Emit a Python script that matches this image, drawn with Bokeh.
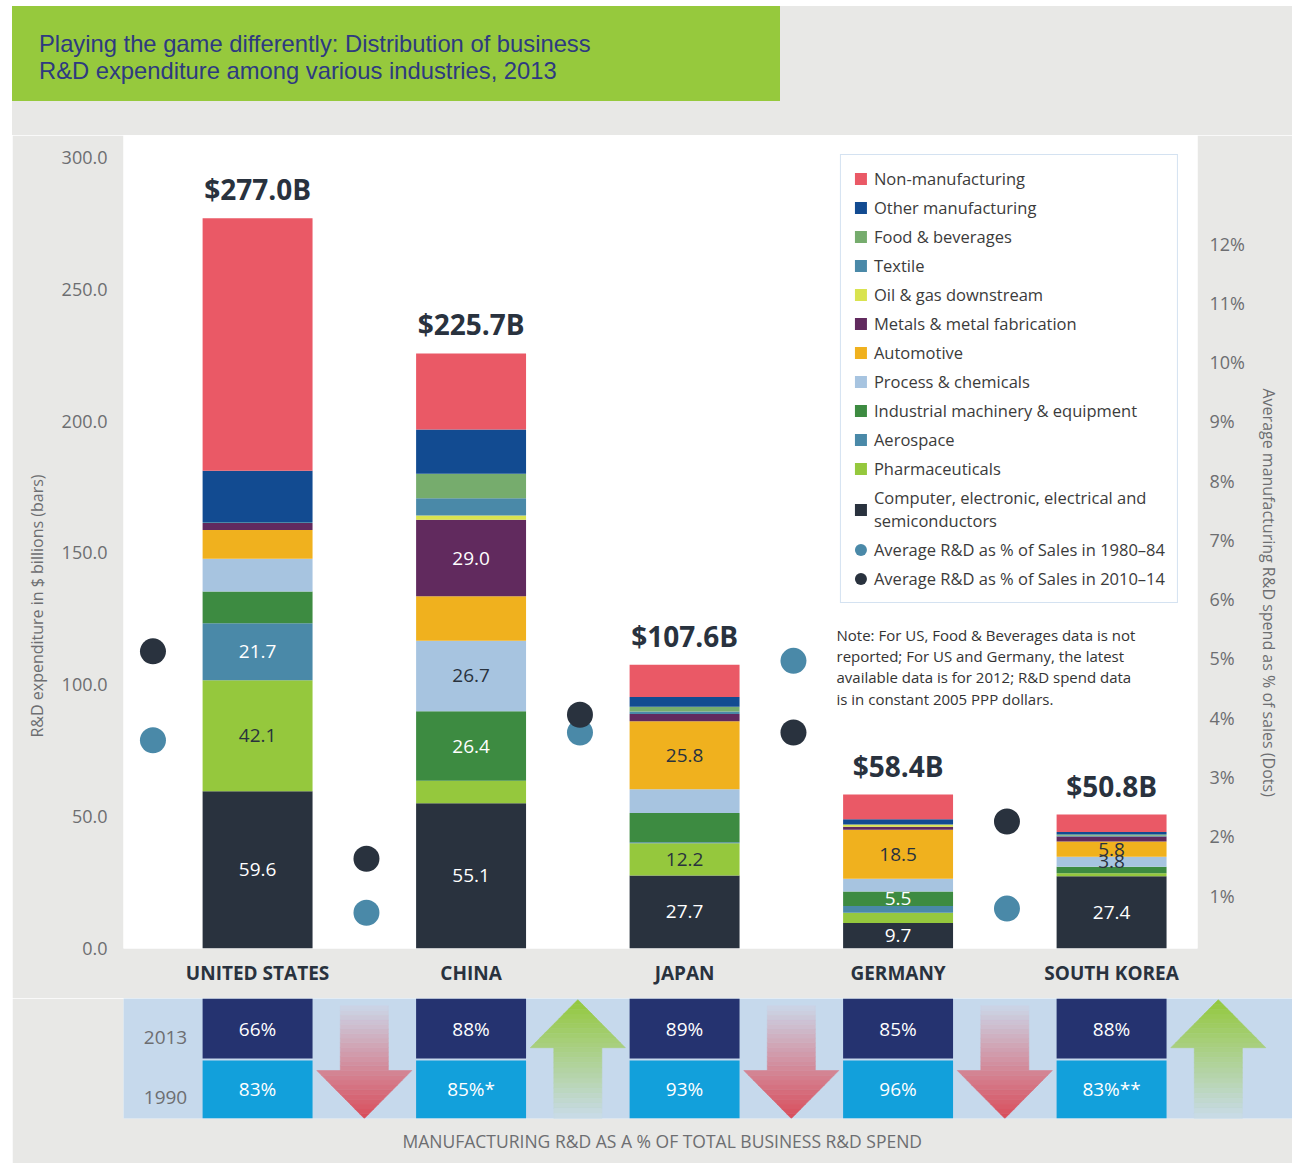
import math
from bokeh.plotting import figure
from bokeh.models import (Range1d, LinearAxis, FixedTicker, NumeralTickFormatter, Legend,
                          LegendItem, Label, Div, ColumnDataSource, Title)
from bokeh.layouts import column
from bokeh.core.properties import value
from bokeh.embed import file_html
from bokeh.resources import INLINE

# ------------------------------------------------------------------ data
countries = ["UNITED STATES", "CHINA", "JAPAN", "GERMANY", "SOUTH KOREA"]

# business R&D spend by industry, $ billions (stack order bottom -> top)
computer   = [59.6, 55.1, 27.7, 9.7, 27.4]
pharma     = [42.1, 8.5, 12.2, 3.9, 1.1]
aerospace  = [21.7, 0.0, 0.4, 2.5, 0.0]
industrial = [12.0, 26.4, 11.1, 5.5, 2.5]
process    = [12.4, 26.7, 9.0, 4.9, 3.8]
automotive = [10.9, 16.9, 25.8, 18.5, 5.8]
metals     = [2.7, 29.0, 2.7, 1.2, 1.9]
oil_gas    = [0.0, 1.6, 0.0, 0.8, 0.0]
textile    = [0.4, 6.6, 1.0, 0.0, 0.3]
food       = [0.0, 9.3, 1.8, 0.0, 0.4]
other_mfg  = [19.4, 16.7, 3.7, 2.0, 1.0]
non_mfg    = [95.8, 28.9, 12.2, 9.4, 6.6]

industry_names = {
    "computer": "Computer, electronic, electrical and\nsemiconductors",
    "pharma": "Pharmaceuticals",
    "aerospace": "Aerospace",
    "industrial": "Industrial machinery & equipment",
    "process": "Process & chemicals",
    "automotive": "Automotive",
    "metals": "Metals & metal fabrication",
    "oil_gas": "Oil & gas downstream",
    "textile": "Textile",
    "food": "Food & beverages",
    "other_mfg": "Other manufacturing",
    "non_mfg": "Non-manufacturing",
}

# segments that carry a value label
labels_shown = [
    ["computer", "pharma", "aerospace"],
    ["computer", "industrial", "process", "metals"],
    ["computer", "pharma", "automotive"],
    ["computer", "industrial", "automotive"],
    ["computer", "process", "automotive"],
]

# average manufacturing R&D as % of sales (dots)
pct_1980_84 = [3.62, 0.71, 3.75, 4.96, 0.78]
pct_2010_14 = [5.12, 1.62, 4.05, 3.75, 2.25]

# manufacturing R&D as % of total business R&D
share_2013 = [66, 88, 89, 85, 88]
share_1990 = [83, 85, 93, 96, 83]
share_1990_marks = ["", "*", "", "", "**"]

left_ticks = [0, 50, 100, 150, 200, 250, 300]
right_ticks = [1, 2, 3, 4, 5, 6, 7, 8, 9, 10, 11, 12]

# ------------------------------------------------------------------ style
GRAY = "#e8e8e6"
DARK = "#29323e"
AXIS_TXT = "#6d6e71"
FONT = "Open Sans"
colors = {
    "computer": "#29323e", "pharma": "#95c83d", "aerospace": "#4a89a8",
    "industrial": "#3d8b41", "process": "#a7c4e0", "automotive": "#f0b11e",
    "metals": "#612a5e", "oil_gas": "#d9e34f", "textile": "#4a89a8",
    "food": "#76ac6d", "other_mfg": "#124b91", "non_mfg": "#ea5966",
}
dark_text_on = {"pharma", "process", "automotive"}
LIGHT_DOT = "#4a89a8"
DARK_DOT = "#29323e"

# layout (page pixels; the page has no body margin)
ORIGIN_X, ORIGIN_Y = 12, 6
W = 1280
FRAME_L, FRAME_R, FRAME_T, FRAME_B = 123, 1197, 135, 948
PX_PER_X = 213.5
X0 = -0.628
PX_PER_Y = 2.6367
PX_PER_PCT = 59.27
PCT_ZERO_PX = 954.3
BAR_W = 0.515
DOT_OFFSET = 0.49

def px2x(px):
    return X0 + (px - FRAME_L) / PX_PER_X

def py2y(py):
    return (FRAME_B - py) / PX_PER_Y

keys = ["computer", "pharma", "aerospace", "industrial", "process", "automotive",
        "metals", "oil_gas", "textile", "food", "other_mfg", "non_mfg"]
series = {"computer": computer, "pharma": pharma, "aerospace": aerospace,
          "industrial": industrial, "process": process, "automotive": automotive,
          "metals": metals, "oil_gas": oil_gas, "textile": textile, "food": food,
          "other_mfg": other_mfg, "non_mfg": non_mfg}
idx = list(range(len(countries)))

# ------------------------------------------------------------------ header
line_style = ("transform:scaleX(0.99);transform-origin:left top;white-space:nowrap;"
              "height:27px;line-height:27px;")
header = Div(
    width=W, height=FRAME_T - ORIGIN_Y, margin=0, styles={"background-color": GRAY},
    text=(
        '<div style="width:768px;height:95px;background:#96c93d;'
        'box-sizing:border-box;padding:24px 0 0 27px;font-family:\'Liberation Sans\';'
        'font-size:24px;color:#2e3a80;">'
        f'<div style="{line_style}">Playing the game differently: Distribution of business</div>'
        f'<div style="{line_style}">R&amp;D expenditure among various industries, 2013</div>'
        '</div>'
    ),
)

# ------------------------------------------------------------------ main chart
p = figure(
    width=W, height=998 - FRAME_T,
    x_range=Range1d(X0, px2x(FRAME_R)), y_range=Range1d(0, py2y(FRAME_T)),
    output_backend="svg", toolbar_location=None,
    min_border_left=FRAME_L - ORIGIN_X, min_border_right=ORIGIN_X + W - FRAME_R,
    min_border_top=0, min_border_bottom=998 - FRAME_B,
    background_fill_color="white", border_fill_color=GRAY, outline_line_color=None,
)
p.xgrid.visible = False
p.ygrid.visible = False

data = {"x": idx}
data.update(series)
src = ColumnDataSource(data)
bar_rs = p.vbar_stack(keys, x="x", width=BAR_W, source=src,
                      fill_color=[colors[k] for k in keys], line_color=None)

# segment value labels
lx, ly, lt, lc = [], [], [], []
for i in idx:
    base = 0.0
    for k in keys:
        v = series[k][i]
        if k in labels_shown[i]:
            lx.append(i)
            ly.append(base + v / 2)
            lt.append(f"{v:.1f}")
            lc.append(DARK if k in dark_text_on else "white")
        base += v
p.text(x=lx, y=ly, text=lt, text_color=lc, text_align="center", text_baseline="middle",
       text_font=value(FONT), text_font_size="19px")

# totals
totals = [sum(series[k][i] for k in keys) for i in idx]
p.text(x=idx, y=totals, text=[f"${t:.1f}B" for t in totals], text_color=DARK,
       text_align="center", text_baseline="bottom", y_offset=-10,
       text_font=value(FONT), text_font_size="28px", text_font_style="bold")

# dots on the secondary axis
p.extra_y_ranges = {"pct": Range1d((PCT_ZERO_PX - FRAME_B) / PX_PER_PCT,
                                   (PCT_ZERO_PX - FRAME_T) / PX_PER_PCT)}
dot_x = [i - DOT_OFFSET for i in idx]
r_light = p.ellipse(x=dot_x, y=pct_1980_84, width=26, height=26, width_units="screen",
                    height_units="screen", fill_color=LIGHT_DOT, line_color=None,
                    y_range_name="pct")
r_dark = p.ellipse(x=dot_x, y=pct_2010_14, width=26, height=26, width_units="screen",
                   height_units="screen", fill_color=DARK_DOT, line_color=None,
                   y_range_name="pct")

# axes
p.yaxis.ticker = FixedTicker(ticks=left_ticks)
p.yaxis.formatter = NumeralTickFormatter(format="0.0")
p.xaxis.ticker = FixedTicker(ticks=idx)
p.xaxis.major_label_overrides = {i: c for i, c in enumerate(countries)}
p.xaxis.major_label_text_font_style = "bold"
p.xaxis.major_label_text_font_size = "19px"
p.xaxis.major_label_text_color = DARK
p.xaxis.major_label_standoff = 5

ra = LinearAxis(y_range_name="pct", ticker=FixedTicker(ticks=right_ticks),
                major_label_overrides={t: f"{t}%" for t in right_ticks})
p.add_layout(ra, "right")
p.yaxis.major_label_text_font_size = "18px"
p.yaxis.major_label_text_color = AXIS_TXT
p.yaxis[0].major_label_standoff = 10
ra.major_label_standoff = 6
for ax in p.axis:
    ax.axis_line_color = None
    ax.major_tick_line_color = None
    ax.minor_tick_line_color = None
    ax.major_label_text_font = FONT

# axis titles (as side titles so they can be placed along the axis)
p.add_layout(Title(text="R&D expenditure in $ billions (bars)", align="left",
                   offset=FRAME_B - 737, standoff=21, text_font=FONT,
                   text_font_size="16px", text_font_style="normal",
                   text_color=AXIS_TXT), "left")
p.add_layout(Title(text="Average manufacturing R&D spend as % of sales (Dots)",
                   align="left", offset=388 - FRAME_T, standoff=21, text_font=FONT,
                   text_font_size="16px", text_font_style="normal",
                   text_color=AXIS_TXT), "right")

# legend
items = [LegendItem(label=industry_names[k], renderers=[r])
         for k, r in reversed(list(zip(keys, bar_rs)))]
items.append(LegendItem(label="Average R&D as % of Sales in 1980\u201384", renderers=[r_light]))
items.append(LegendItem(label="Average R&D as % of Sales in 2010\u201314", renderers=[r_dark]))
legend = Legend(items=items, location="top_right", margin=19, padding=12, spacing=6,
                glyph_width=15, glyph_height=15, label_height=20, label_standoff=6,
                label_text_font=FONT, label_text_font_size="16.5px",
                label_text_color="#3b3b3b",
                border_line_color="#a9c5e3", border_line_width=1.5,
                background_fill_color="white", background_fill_alpha=1.0)
p.add_layout(legend)

p.add_layout(Label(x=px2x(836), y=py2y(624),
                   text=("Note: For US, Food & Beverages data is not\n"
                         "reported; For US and Germany, the latest\n"
                         "available data is for 2012; R&D spend data\n"
                         "is in constant 2005 PPP dollars."),
                   text_align="left", text_baseline="top", text_line_height=1.07,
                   text_font=FONT, text_font_size="15px", text_color="#333333"))

# ------------------------------------------------------------------ table strip
T_TOP, T_BOT = 998, 1118
TPX_PER_Y = (T_BOT - T_TOP) / 2.0
t = figure(
    width=W, height=1163 - T_TOP,
    x_range=Range1d(X0, px2x(ORIGIN_X + W)), y_range=Range1d(0, 2),
    output_backend="svg", toolbar_location=None,
    min_border_left=FRAME_L - ORIGIN_X, min_border_right=0, min_border_top=0,
    min_border_bottom=1163 - T_BOT,
    x_axis_location=None, y_axis_location=None,
    background_fill_color="#c6d9ec", border_fill_color=GRAY, outline_line_color=None,
    margin=(0, 0, 0, ORIGIN_X),
)
t.xgrid.visible = False
t.ygrid.visible = False

t.vbar(x=idx, width=BAR_W, bottom=1.0, top=2.0, fill_color="#253370", line_color=None)
t.vbar(x=idx, width=BAR_W, bottom=0.0, top=0.967, fill_color="#12a0db", line_color=None)
t.text(x=idx, y=[1.5] * 5, text=[f"{v}%" for v in share_2013], text_color="white",
       text_align="center", text_baseline="middle", text_font=value(FONT),
       text_font_size="19px")
t.text(x=idx, y=[0.49] * 5, text=[f"{v}%{m}" for v, m in zip(share_1990, share_1990_marks)],
       text_color="white", text_align="center", text_baseline="middle",
       text_font=value(FONT), text_font_size="19px")
row_x = px2x(165)
t.text(x=[row_x, row_x], y=[1.35, 0.35], text=["2013", "1990"], text_color=AXIS_TXT,
       text_align="center", text_baseline="middle", text_font=value(FONT),
       text_font_size="19px")

# change arrows (gradient approximated by bands)
HEAD_LEN = 0.8
HEAD_HW = 47.5 / PX_PER_X
SHAFT_HW = 24.0 / PX_PER_X
ARROW_OFFSET = 0.5

def hex2rgb(h):
    return tuple(int(h[j:j + 2], 16) for j in (1, 3, 5))

def mix(c1, c2, f):
    a, b = hex2rgb(c1), hex2rgb(c2)
    return "#%02x%02x%02x" % tuple(round(a[j] + (b[j] - a[j]) * f) for j in range(3))

axs, ays, acols = [], [], []
for i in idx:
    xc = i + ARROW_OFFSET
    if share_2013[i] < share_1990[i]:
        tip_y, length, sgn, c_tip, c_tail = 0.0, 1.88, 1, "#d94c5a", "#cbd6e8"
    else:
        tip_y, length, sgn, c_tip, c_tail = 1.98, 1.98, -1, "#93c83b", "#c9dbe9"
    bands = []
    nh, ns = 10, 14
    for k in range(nh):
        d0, d1 = HEAD_LEN * k / nh, HEAD_LEN * (k + 1) / nh
        bands.append((d0, d1, HEAD_HW * d0 / HEAD_LEN, HEAD_HW * d1 / HEAD_LEN))
    for k in range(ns):
        d0 = HEAD_LEN + (length - HEAD_LEN) * k / ns
        d1 = HEAD_LEN + (length - HEAD_LEN) * (k + 1) / ns
        bands.append((d0, d1, SHAFT_HW, SHAFT_HW))
    for d0, d1, h0, h1 in bands:
        y0, y1 = tip_y + sgn * d0, tip_y + sgn * d1
        axs.append([xc - h0, xc + h0, xc + h1, xc - h1])
        ays.append([y0, y0, y1, y1])
        acols.append(mix(c_tip, c_tail, ((d0 + d1) / 2) / length))
t.patches(xs=axs, ys=ays, fill_color=acols, line_color=acols, line_width=0.6)

t.add_layout(Title(text="MANUFACTURING R&D AS A % OF TOTAL BUSINESS R&D SPEND",
                   align="left", offset=402 - FRAME_L, standoff=16, text_font=FONT,
                   text_font_size="17.5px", text_font_style="normal",
                   text_color=AXIS_TXT), "below")

top_block = column(header, p, margin=(ORIGIN_Y, 0, 0, ORIGIN_X))
open("out.html", "w").write(file_html([top_block, t], INLINE,
                                      title="R&D expenditure by industry"))
